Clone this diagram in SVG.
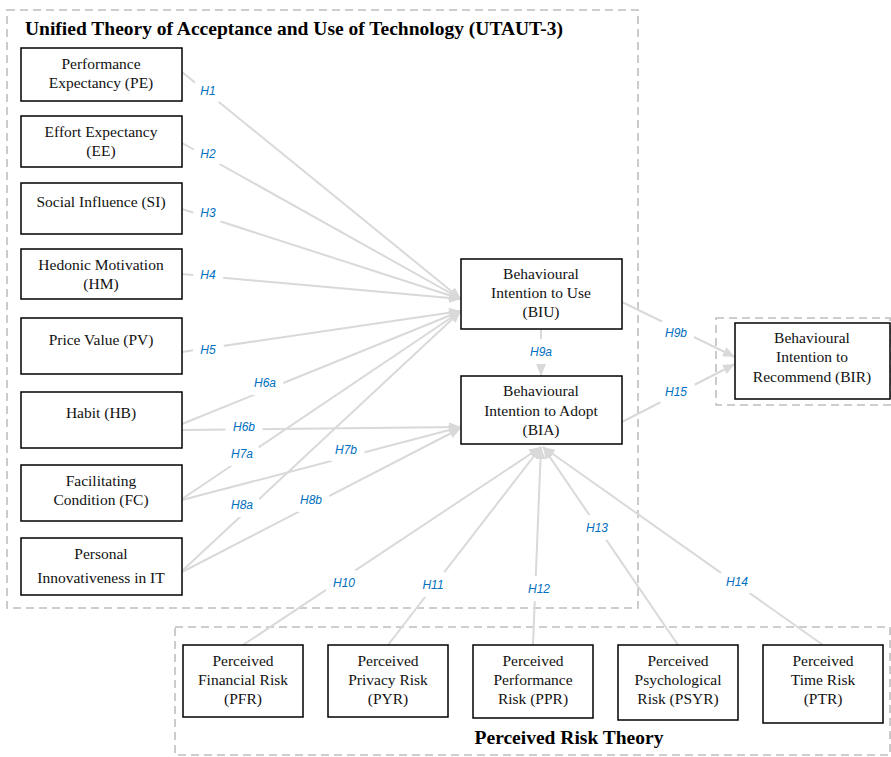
<svg xmlns="http://www.w3.org/2000/svg" width="891" height="757" viewBox="0 0 891 757">
<defs>
<marker id="ah" viewBox="0 0 12 10" refX="12" refY="5" markerWidth="12" markerHeight="10" markerUnits="userSpaceOnUse" orient="auto">
<path d="M0,0 L12,5 L0,10 z" fill="#d9d9d9"/>
</marker>
</defs>
<style>
.frame{fill:none;stroke:#bfbfbf;stroke-width:1.6;stroke-dasharray:8 5}
.box{fill:#fff;stroke:#000;stroke-width:1.5}
.t{font-family:"Liberation Serif",serif;font-size:15.5px;fill:#111;text-anchor:middle}
.title{font-family:"Liberation Serif",serif;font-size:19.5px;font-weight:bold;fill:#000}
.c{stroke:#d9d9d9;stroke-width:2;fill:none}
.a{marker-end:url(#ah)}
.h{font-family:"Liberation Sans",sans-serif;font-style:italic;font-size:12px;fill:#0070c0;text-anchor:middle;stroke:#fff;stroke-width:16;stroke-linejoin:round;paint-order:stroke}
</style>
<rect width="891" height="757" fill="#fff"/>
<g id="frames">
<rect class="frame" x="7" y="10" width="631" height="598"/>
<rect class="frame" x="716" y="318" width="174" height="87"/>
<rect class="frame" x="175" y="627" width="715" height="128"/>
<text class="title" x="25" y="35">Unified Theory of Acceptance and Use of Technology (UTAUT-3)</text>
<text class="title" x="569" y="744" text-anchor="middle">Perceived Risk Theory</text>
</g>
<g id="connectors">
<line class="c a" x1="182" y1="72" x2="461" y2="299"/>
<line class="c a" x1="182" y1="143" x2="461" y2="299"/>
<line class="c a" x1="182" y1="209" x2="461" y2="299"/>
<line class="c a" x1="182" y1="274" x2="461" y2="299"/>
<line class="c a" x1="182" y1="352" x2="461" y2="311"/>
<line class="c a" x1="182" y1="424" x2="461" y2="311"/>
<line class="c a" x1="182" y1="499" x2="461" y2="311"/>
<line class="c a" x1="182" y1="571" x2="461" y2="311"/>
<line class="c a" x1="182" y1="430" x2="461" y2="427"/>
<line class="c a" x1="182" y1="500" x2="461" y2="427"/>
<line class="c a" x1="182" y1="572" x2="461" y2="428"/>
<line class="c a" x1="541" y1="329" x2="541" y2="376"/>
<line class="c a" x1="622" y1="302" x2="735" y2="357"/>
<line class="c a" x1="622" y1="422" x2="735" y2="364"/>
<line class="c a" x1="243" y1="645" x2="541" y2="447"/>
<line class="c a" x1="388" y1="645" x2="541" y2="447"/>
<line class="c a" x1="533" y1="645" x2="541" y2="447"/>
<line class="c a" x1="678" y1="645" x2="543" y2="447"/>
<line class="c a" x1="823" y1="645" x2="543" y2="447"/>
<text class="h" x="208" y="95">H1</text>
<text class="h" x="208" y="158">H2</text>
<text class="h" x="208" y="217">H3</text>
<text class="h" x="208" y="279">H4</text>
<text class="h" x="208" y="354">H5</text>
<text class="h" x="265" y="387">H6a</text>
<text class="h" x="244" y="431">H6b</text>
<text class="h" x="242" y="458">H7a</text>
<text class="h" x="346" y="454">H7b</text>
<text class="h" x="242" y="509">H8a</text>
<text class="h" x="311" y="504">H8b</text>
<text class="h" x="541" y="356">H9a</text>
<text class="h" x="676" y="337">H9b</text>
<text class="h" x="676" y="396">H15</text>
<text class="h" x="344" y="587">H10</text>
<text class="h" x="433" y="589">H11</text>
<text class="h" x="539" y="593">H12</text>
<text class="h" x="597" y="532">H13</text>
<text class="h" x="737" y="586">H14</text>
</g>
<g id="PE"><rect class="box" x="21" y="48" width="161" height="53"/><text class="t" x="101" y="69">Performance</text><text class="t" x="101" y="88">Expectancy (PE)</text></g>
<g id="EE"><rect class="box" x="21" y="116" width="161" height="51"/><text class="t" x="101" y="137">Effort Expectancy</text><text class="t" x="101" y="156">(EE)</text></g>
<g id="SI"><rect class="box" x="21" y="183" width="161" height="51"/><text class="t" x="101" y="207">Social Influence (SI)</text></g>
<g id="HM"><rect class="box" x="21" y="249" width="161" height="50"/><text class="t" x="101" y="270">Hedonic Motivation</text><text class="t" x="101" y="289">(HM)</text></g>
<g id="PV"><rect class="box" x="21" y="318" width="161" height="56"/><text class="t" x="101" y="345">Price Value (PV)</text></g>
<g id="HB"><rect class="box" x="21" y="392" width="161" height="56"/><text class="t" x="101" y="418">Habit (HB)</text></g>
<g id="FC"><rect class="box" x="21" y="465" width="161" height="56"/><text class="t" x="101" y="486">Facilitating</text><text class="t" x="101" y="505">Condition (FC)</text></g>
<g id="PI"><rect class="box" x="21" y="538" width="161" height="57"/><text class="t" x="101" y="559">Personal</text><text class="t" x="101" y="583">Innovativeness in IT</text></g>
<g id="BIU"><rect class="box" x="461" y="259" width="161" height="70"/><text class="t" x="541" y="279">Behavioural</text><text class="t" x="541" y="298">Intention to Use</text><text class="t" x="541" y="317">(BIU)</text></g>
<g id="BIA"><rect class="box" x="461" y="376" width="161" height="68"/><text class="t" x="541" y="396">Behavioural</text><text class="t" x="541" y="416">Intention to Adopt</text><text class="t" x="541" y="435">(BIA)</text></g>
<g id="BIR"><rect class="box" x="735" y="323" width="155" height="76"/><text class="t" x="812" y="343">Behavioural</text><text class="t" x="812" y="362">Intention to</text><text class="t" x="812" y="382">Recommend (BIR)</text></g>
<g id="PFR"><rect class="box" x="183" y="645" width="120" height="72"/><text class="t" x="243" y="666">Perceived</text><text class="t" x="243" y="685">Financial Risk</text><text class="t" x="243" y="704">(PFR)</text></g>
<g id="PYR"><rect class="box" x="328" y="645" width="120" height="72"/><text class="t" x="388" y="666">Perceived</text><text class="t" x="388" y="685">Privacy Risk</text><text class="t" x="388" y="704">(PYR)</text></g>
<g id="PPR"><rect class="box" x="473" y="645" width="120" height="73"/><text class="t" x="533" y="666">Perceived</text><text class="t" x="533" y="685">Performance</text><text class="t" x="533" y="704">Risk (PPR)</text></g>
<g id="PSYR"><rect class="box" x="618" y="645" width="120" height="75"/><text class="t" x="678" y="666">Perceived</text><text class="t" x="678" y="685">Psychological</text><text class="t" x="678" y="704">Risk (PSYR)</text></g>
<g id="PTR"><rect class="box" x="763" y="645" width="120" height="78"/><text class="t" x="823" y="666">Perceived</text><text class="t" x="823" y="685">Time Risk</text><text class="t" x="823" y="704">(PTR)</text></g>
</svg>
